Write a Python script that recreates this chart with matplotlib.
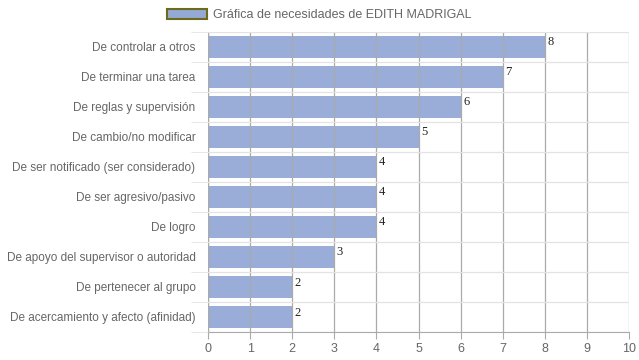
import matplotlib
matplotlib.use("Agg")
import matplotlib.pyplot as plt
import numpy as np
from matplotlib.patches import Patch

categorias = [
    "De controlar a otros",
    "De terminar una tarea",
    "De reglas y supervisión",
    "De cambio/no modificar",
    "De ser notificado (ser considerado)",
    "De ser agresivo/pasivo",
    "De logro",
    "De apoyo del supervisor o autoridad",
    "De pertenecer al grupo",
    "De acercamiento y afecto (afinidad)",
]
valores = [8, 7, 6, 5, 4, 4, 4, 3, 2, 2]
x_ticks = list(range(0, 11))
titulo = "Gráfica de necesidades de EDITH MADRIGAL"

color_barra = "#94a9d6"
plt.rcParams['font.family'] = ['Liberation Sans', 'DejaVu Sans']

fig = plt.figure(figsize=(6.39, 3.6), dpi=100)
ax = fig.add_axes([208 / 639, 28 / 360, 421 / 639, 300 / 360])

y = np.arange(len(categorias))
ax.barh(y, valores, height=0.73, color=color_barra, alpha=0.95, zorder=1)
for yi, v in zip(y, valores):
    ax.text(v + 0.06, yi - 0.15, str(v), fontsize=9, family='Liberation Serif',
            color="#222222", ha='left', va='center', zorder=3)

ax.set_xlim(0, 10)
ax.set_ylim(len(categorias) - 0.5, -0.5)
ax.set_xticks(x_ticks)
ax.set_yticks(y)
ax.set_yticklabels(categorias)
ax.set_yticks(np.arange(-0.5, len(categorias)), minor=True)

ax.grid(axis='x', color="#aaaaaa", linewidth=0.9, zorder=2)
ax.grid(axis='y', which='minor', color="#e3e3e3", linewidth=0.9, zorder=0)
ax.set_axisbelow(False)

for s in ['top', 'right', 'left']:
    ax.spines[s].set_visible(False)
ax.spines['bottom'].set_color("#aaaaaa")

ax.tick_params(axis='x', length=5, color="#aaaaaa", labelcolor="#666666", labelsize=9, pad=3)
ax.tick_params(axis='y', which='major', length=0, labelcolor="#666666", labelsize=8.5, pad=9)
ax.tick_params(axis='y', which='minor', length=12, color="#e3e3e3")
ax.axvline(0, color="#aaaaaa", linewidth=0.9, zorder=2)

leg = fig.legend(handles=[Patch(facecolor=color_barra, edgecolor="#6b6b1a", linewidth=1.5)],
                 labels=[titulo], loc='upper left', bbox_to_anchor=(158 / 639, 1.0),
                 frameon=False, fontsize=9, handlelength=3.2, handleheight=0.9,
                 handletextpad=0.5, borderaxespad=0.3)
for t in leg.get_texts():
    t.set_color("#666666")

fig.savefig("out.png", dpi=100)
